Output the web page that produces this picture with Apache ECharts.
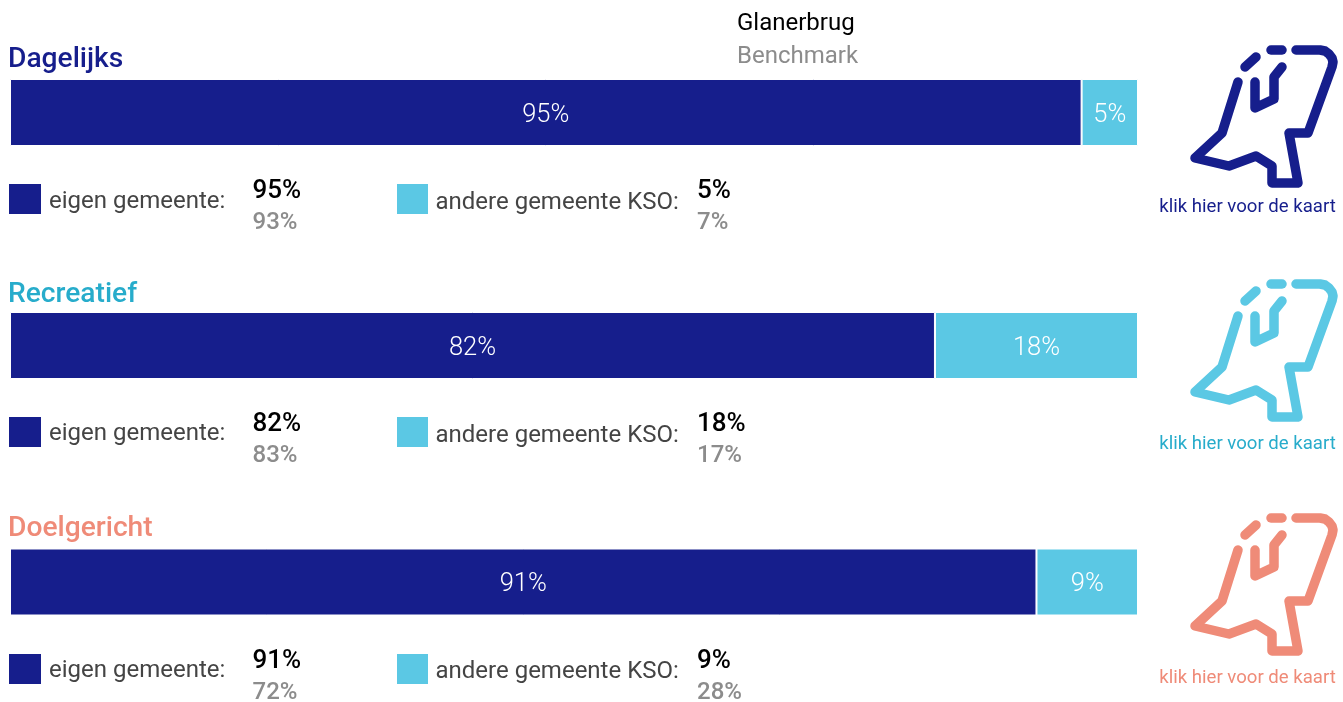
<!DOCTYPE html>
<html><head><meta charset="utf-8">
<style>html,body{margin:0;padding:0;background:#fff}#c{width:1343px;height:702px}</style>
<script src="https://cdn.jsdelivr.net/npm/echarts@6/dist/echarts.min.js"></script>
</head><body><div id="c"></div>
<script>
const categories = ['Dagelijks', 'Recreatief', 'Doelgericht'];
const eigen = [95, 82, 91];
const andere = [5, 18, 9];
const benchEigen = [93, 83, 72];
const benchAndere = [7, 17, 28];
const titleColors = ['#161E8C', '#27ACCB', '#EF8B78'];
const iconColors = ['#161E8C', '#5BC8E4', '#EF8B78'];
const linkColors = ['#161E8C', '#27ACCB', '#EF8B78'];
const NAVY = '#161E8C', CYAN = '#5BC8E4';
const FONT = 'Roboto';

const barTop = [79, 312, 548.5];
const titleY = [60, 295, 529];
const swatchTop = [184, 417, 654];
const legLeftY = [202, 434, 671];
const legRightY = [203, 436, 672];
const val1Y = [191, 424, 661];
const val2Y = [223, 456, 693];
const iconDY = [0, 234, 468];
const linkY = [207, 444, 678];

// map icon outline
const iconParts = [
  [[1296,50],[1320,50],[1325,51],[1329,54],[1332,58],[1333,62],[1332,67],[1308,133],[1289,133],[1298,183],[1272,183],[1272,166],[1256,156],[1229,166],[1195,158],[1222,133],[1238,82]],
  [[1255,82],[1255,108],[1274,99],[1274,77],[1282,67]],
  [[1245,67],[1256,57]],
  [[1271,50],[1282,50]]
];

const graphics = [];
const txt = (x, y, text, size, fill, weight, align) => graphics.push({
  type: 'text', x, y, silent: true,
  style: { text, fontFamily: FONT, fontSize: size, fill, fontWeight: weight || 400, textAlign: align || 'left', textVerticalAlign: 'middle' }
});
txt(737, 24, 'Glanerbrug', 24, '#000');
txt(737, 57, 'Benchmark', 24, '#8c8c8c');
categories.forEach((c, i) => {
  txt(8, titleY[i], c, 28.2, titleColors[i], 500);
  graphics.push({ type: 'rect', silent: true, shape: { x: 9, y: swatchTop[i], width: 32, height: 30 }, style: { fill: NAVY } });
  graphics.push({ type: 'rect', silent: true, shape: { x: 397, y: swatchTop[i], width: 31, height: 30 }, style: { fill: CYAN } });
  txt(49, legLeftY[i], 'eigen gemeente:', 24, '#444');
  txt(435.5, legRightY[i], 'andere gemeente KSO:', 24, '#444');
  txt(252.5, val1Y[i], eigen[i] + '%', 26, '#000', 500);
  txt(252.5, val2Y[i], benchEigen[i] + '%', 24, '#8c8c8c', 500);
  txt(697, val1Y[i], andere[i] + '%', 26, '#000', 500);
  txt(697, val2Y[i], benchAndere[i] + '%', 24, '#8c8c8c', 500);
  iconParts.forEach(p => graphics.push({
    type: 'polyline', silent: true, y: iconDY[i],
    shape: { points: p },
    style: { stroke: iconColors[i], lineWidth: 9.5, fill: null, lineCap: 'round', lineJoin: 'round' }
  }));
  txt(1247.5, linkY[i], 'klik hier voor de kaart', 18.6, linkColors[i], 400, 'center');
});

const label = { show: true, position: 'inside', formatter: '{c}%', color: '#fff', fontFamily: FONT, fontSize: 25.5, fontWeight: 300, offset: [0, 3] };
const option = {
  animation: false,
  grid: categories.map((c, i) => ({ left: 10, width: 1128, top: barTop[i], height: 67 })),
  xAxis: categories.map((c, i) => ({ type: 'value', gridIndex: i, min: 0, max: 100, show: false })),
  yAxis: categories.map((c, i) => ({ type: 'category', gridIndex: i, data: [c], show: false })),
  series: categories.flatMap((c, i) => [
    { type: 'bar', name: 'eigen gemeente', xAxisIndex: i, yAxisIndex: i, stack: 's' + i, data: [eigen[i]], barWidth: '100%', label,
      itemStyle: { color: NAVY, borderColor: '#fff', borderWidth: 1 } },
    { type: 'bar', name: 'andere gemeente KSO', xAxisIndex: i, yAxisIndex: i, stack: 's' + i, data: [andere[i]], barWidth: '100%', label,
      itemStyle: { color: CYAN, borderColor: '#fff', borderWidth: 1 } }
  ]),
  graphic: graphics
};
echarts.init(document.getElementById('c')).setOption(option);
</script></body></html>
